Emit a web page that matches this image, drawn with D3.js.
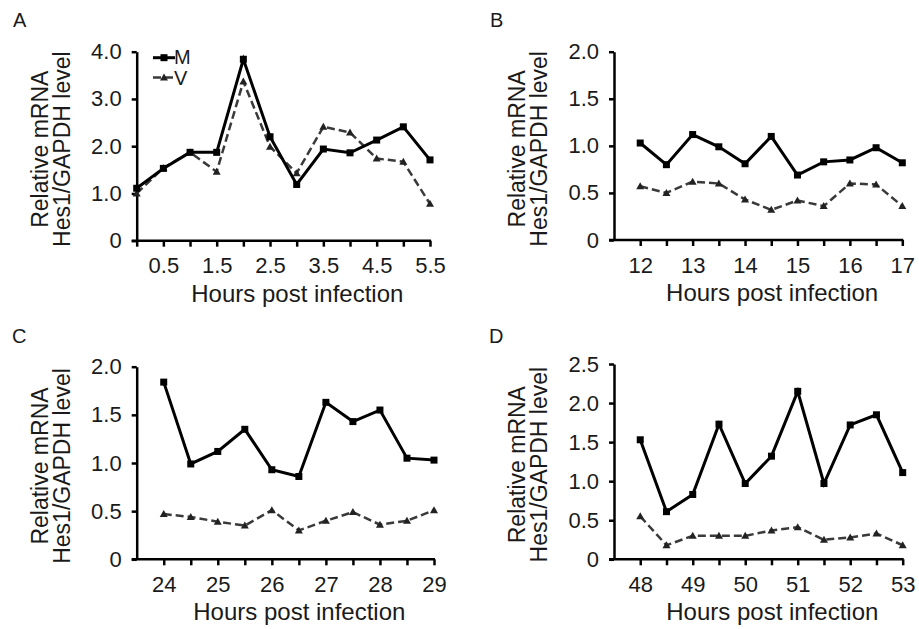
<!DOCTYPE html>
<html>
<head>
<meta charset="utf-8">
<script src="https://cdn.jsdelivr.net/npm/d3@7"></script>
<style>
  body { margin: 0; background: #fff; }
  svg text { font-family: "Liberation Sans", Arial, sans-serif; fill: #1a1a1a; }
</style>
</head>
<body>
<svg id="chart" width="919" height="629"></svg>
<script>
// hours sampled per panel
var hoursA = [0, 0.5, 1, 1.5, 2, 2.5, 3, 3.5, 4, 4.5, 5, 5.5]
var hoursB = [12, 12.5, 13, 13.5, 14, 14.5, 15, 15.5, 16, 16.5, 17]
var hoursC = [24, 24.5, 25, 25.5, 26, 26.5, 27, 27.5, 28, 28.5, 29]
var hoursD = [48, 48.5, 49, 49.5, 50, 50.5, 51, 51.5, 52, 52.5, 53]

// M series (solid, squares)
var mA = [1.11, 1.53, 1.87, 1.87, 3.84, 2.20, 1.19, 1.94, 1.86, 2.13, 2.41, 1.71]
var mB = [1.03, 0.80, 1.12, 0.99, 0.81, 1.10, 0.69, 0.83, 0.85, 0.98, 0.82]
var mC = [1.84, 0.99, 1.12, 1.35, 0.93, 0.86, 1.63, 1.43, 1.55, 1.05, 1.03]
var mD = [1.53, 0.61, 0.83, 1.73, 0.97, 1.32, 2.15, 0.97, 1.72, 1.85, 1.11]

// V series (dashed, triangles)
var vA = [1.00, 1.54, 1.87, 1.46, 3.37, 1.99, 1.43, 2.41, 2.29, 1.74, 1.67, 0.78]
var vB = [0.57, 0.50, 0.62, 0.60, 0.43, 0.32, 0.42, 0.36, 0.60, 0.59, 0.36]
var vC = [0.47, 0.44, 0.39, 0.35, 0.51, 0.30, 0.40, 0.49, 0.36, 0.40, 0.51]
var vD = [0.55, 0.18, 0.30, 0.30, 0.30, 0.37, 0.41, 0.25, 0.28, 0.33, 0.18]

// axis ticks
var yTicksA = [0, 1, 2, 3, 4]
var yTicksB = [0, 0.5, 1, 1.5, 2]
var yTicksC = [0, 0.5, 1, 1.5, 2]
var yTicksD = [0, 0.5, 1, 1.5, 2, 2.5]
var xLabelsA = [0.5, 1.5, 2.5, 3.5, 4.5, 5.5]
var xLabelsB = [12, 13, 14, 15, 16, 17]
var xLabelsC = [24, 25, 26, 27, 28, 29]
var xLabelsD = [48, 49, 50, 51, 52, 53]

var seriesNames = ['M', 'V']
var yTitle = ['Relative mRNA', 'Hes1/GAPDH level']
var xTitle = 'Hours post infection'

var svg = d3.select('#chart')

var panels = [
  { letter: 'A', hours: hoursA, m: mA, v: vA, yTicks: yTicksA, xLabels: xLabelsA, xMin: 0,
    left: 136.7, right: 430, top: 51.7, bottom: 240.7, lx: 13, ly: 27, legend: true },
  { letter: 'B', hours: hoursB, m: mB, v: vB, yTicks: yTicksB, xLabels: xLabelsB, xMin: 11.5,
    left: 614, right: 902.3, top: 51.7, bottom: 240, lx: 490, ly: 27 },
  { letter: 'C', hours: hoursC, m: mC, v: vC, yTicks: yTicksC, xLabels: xLabelsC, xMin: 23.5,
    left: 136.7, right: 434, top: 366.7, bottom: 559.3, lx: 12, ly: 343 },
  { letter: 'D', hours: hoursD, m: mD, v: vD, yTicks: yTicksD, xLabels: xLabelsD, xMin: 47.5,
    left: 614, right: 902.7, top: 364, bottom: 559.3, lx: 489, ly: 343 }
]

var fmtY = d => d === 0 ? '0' : d3.format('.1f')(d)

function square(g, x, y) {
  g.append('rect')
    .attr('x', x - 3.5).attr('y', y - 3.5)
    .attr('width', 7).attr('height', 7)
    .attr('fill', '#000')
}

function triangle(g, x, y) {
  g.append('path')
    .attr('d', `M${x},${y - 4}L${x + 4},${y + 3}L${x - 4},${y + 3}Z`)
    .attr('fill', '#222')
}

function drawPanel(p) {
  var xScale = d3.scaleLinear()
    .domain([p.xMin, d3.max(p.hours)])
    .range([p.left, p.right])
  var yScale = d3.scaleLinear()
    .domain([0, d3.max(p.yTicks)])
    .range([p.bottom, p.top])

  var g = svg.append('g').attr('class', 'panel panel-' + p.letter.toLowerCase())

  // panel letter
  g.append('text')
    .attr('x', p.lx).attr('y', p.ly)
    .style('font-size', '20px')
    .text(p.letter)

  // x axis, ticks every half hour
  var xAxis = d3.axisBottom(xScale)
    .tickValues(p.hours)
    .tickSize(6)
    .tickSizeOuter(0)
    .tickPadding(11)
    .tickFormat(d => p.xLabels.includes(d) ? String(d) : '')

  var xg = g.append('g')
    .attr('transform', `translate(0,${p.bottom})`)
    .call(xAxis)
  xg.select('.domain').attr('stroke', '#000').attr('stroke-width', 2.5)
    .attr('d', `M${p.left - 5},0H${p.right + 1}`)
  xg.selectAll('.tick line').attr('stroke', '#000').attr('stroke-width', 2.5)
  xg.selectAll('.tick text').style('font-size', '22px').attr('fill', '#1a1a1a')

  // y axis
  var yAxis = d3.axisLeft(yScale)
    .tickValues(p.yTicks)
    .tickSize(5)
    .tickSizeOuter(0)
    .tickPadding(10)
    .tickFormat(fmtY)

  var yg = g.append('g')
    .attr('transform', `translate(${p.left},0)`)
    .call(yAxis)
  yg.select('.domain').attr('stroke', '#000').attr('stroke-width', 2.5)
  yg.selectAll('.tick line').attr('stroke', '#000').attr('stroke-width', 2.5)
  yg.selectAll('.tick text').style('font-size', '22px').attr('fill', '#1a1a1a')

  // axis titles
  var midY = (p.top + p.bottom) / 2 + 3
  yTitle.forEach((t, i) => {
    g.append('text')
      .attr('transform', `translate(${p.left - 89 + i * 22},${midY}) rotate(-90)`)
      .attr('text-anchor', 'middle')
      .style('font-size', '23px')
      .text(t)
  })
  g.append('text')
    .attr('x', (p.left + p.right) / 2 + 14)
    .attr('y', p.bottom + 61)
    .attr('text-anchor', 'middle')
    .style('font-size', '24px')
    .text(xTitle)

  var line = d3.line()
    .x(d => xScale(d[0]))
    .y(d => yScale(d[1]))

  var vData = p.hours.map((h, i) => [h, p.v[i]])
  var mData = p.hours.map((h, i) => [h, p.m[i]])

  g.append('path')
    .datum(vData)
    .attr('d', line)
    .attr('fill', 'none')
    .attr('stroke', '#3a3a3a')
    .attr('stroke-width', 2.5)
    .attr('stroke-dasharray', '8,4')

  g.append('path')
    .datum(mData)
    .attr('d', line)
    .attr('fill', 'none')
    .attr('stroke', '#000')
    .attr('stroke-width', 3)

  vData.forEach(d => triangle(g, xScale(d[0]), yScale(d[1])))
  mData.forEach(d => square(g, xScale(d[0]), yScale(d[1])))

  if (p.legend) {
    var lg = g.append('g').attr('class', 'legend')
    lg.append('line')
      .attr('x1', 153).attr('x2', 175).attr('y1', 57.7).attr('y2', 57.7)
      .attr('stroke', '#000').attr('stroke-width', 3)
    square(lg, 164, 57.7)
    lg.append('line')
      .attr('x1', 153).attr('x2', 175).attr('y1', 77.5).attr('y2', 77.5)
      .attr('stroke', '#3a3a3a').attr('stroke-width', 2.5)
      .attr('stroke-dasharray', '8,4')
    triangle(lg, 164, 77.5)
    seriesNames.forEach((s, i) => {
      lg.append('text')
        .attr('x', 174).attr('y', 64 + i * 21)
        .style('font-size', '20px')
        .text(s)
    })
  }
}

panels.forEach(drawPanel)
</script>
</body>
</html>
